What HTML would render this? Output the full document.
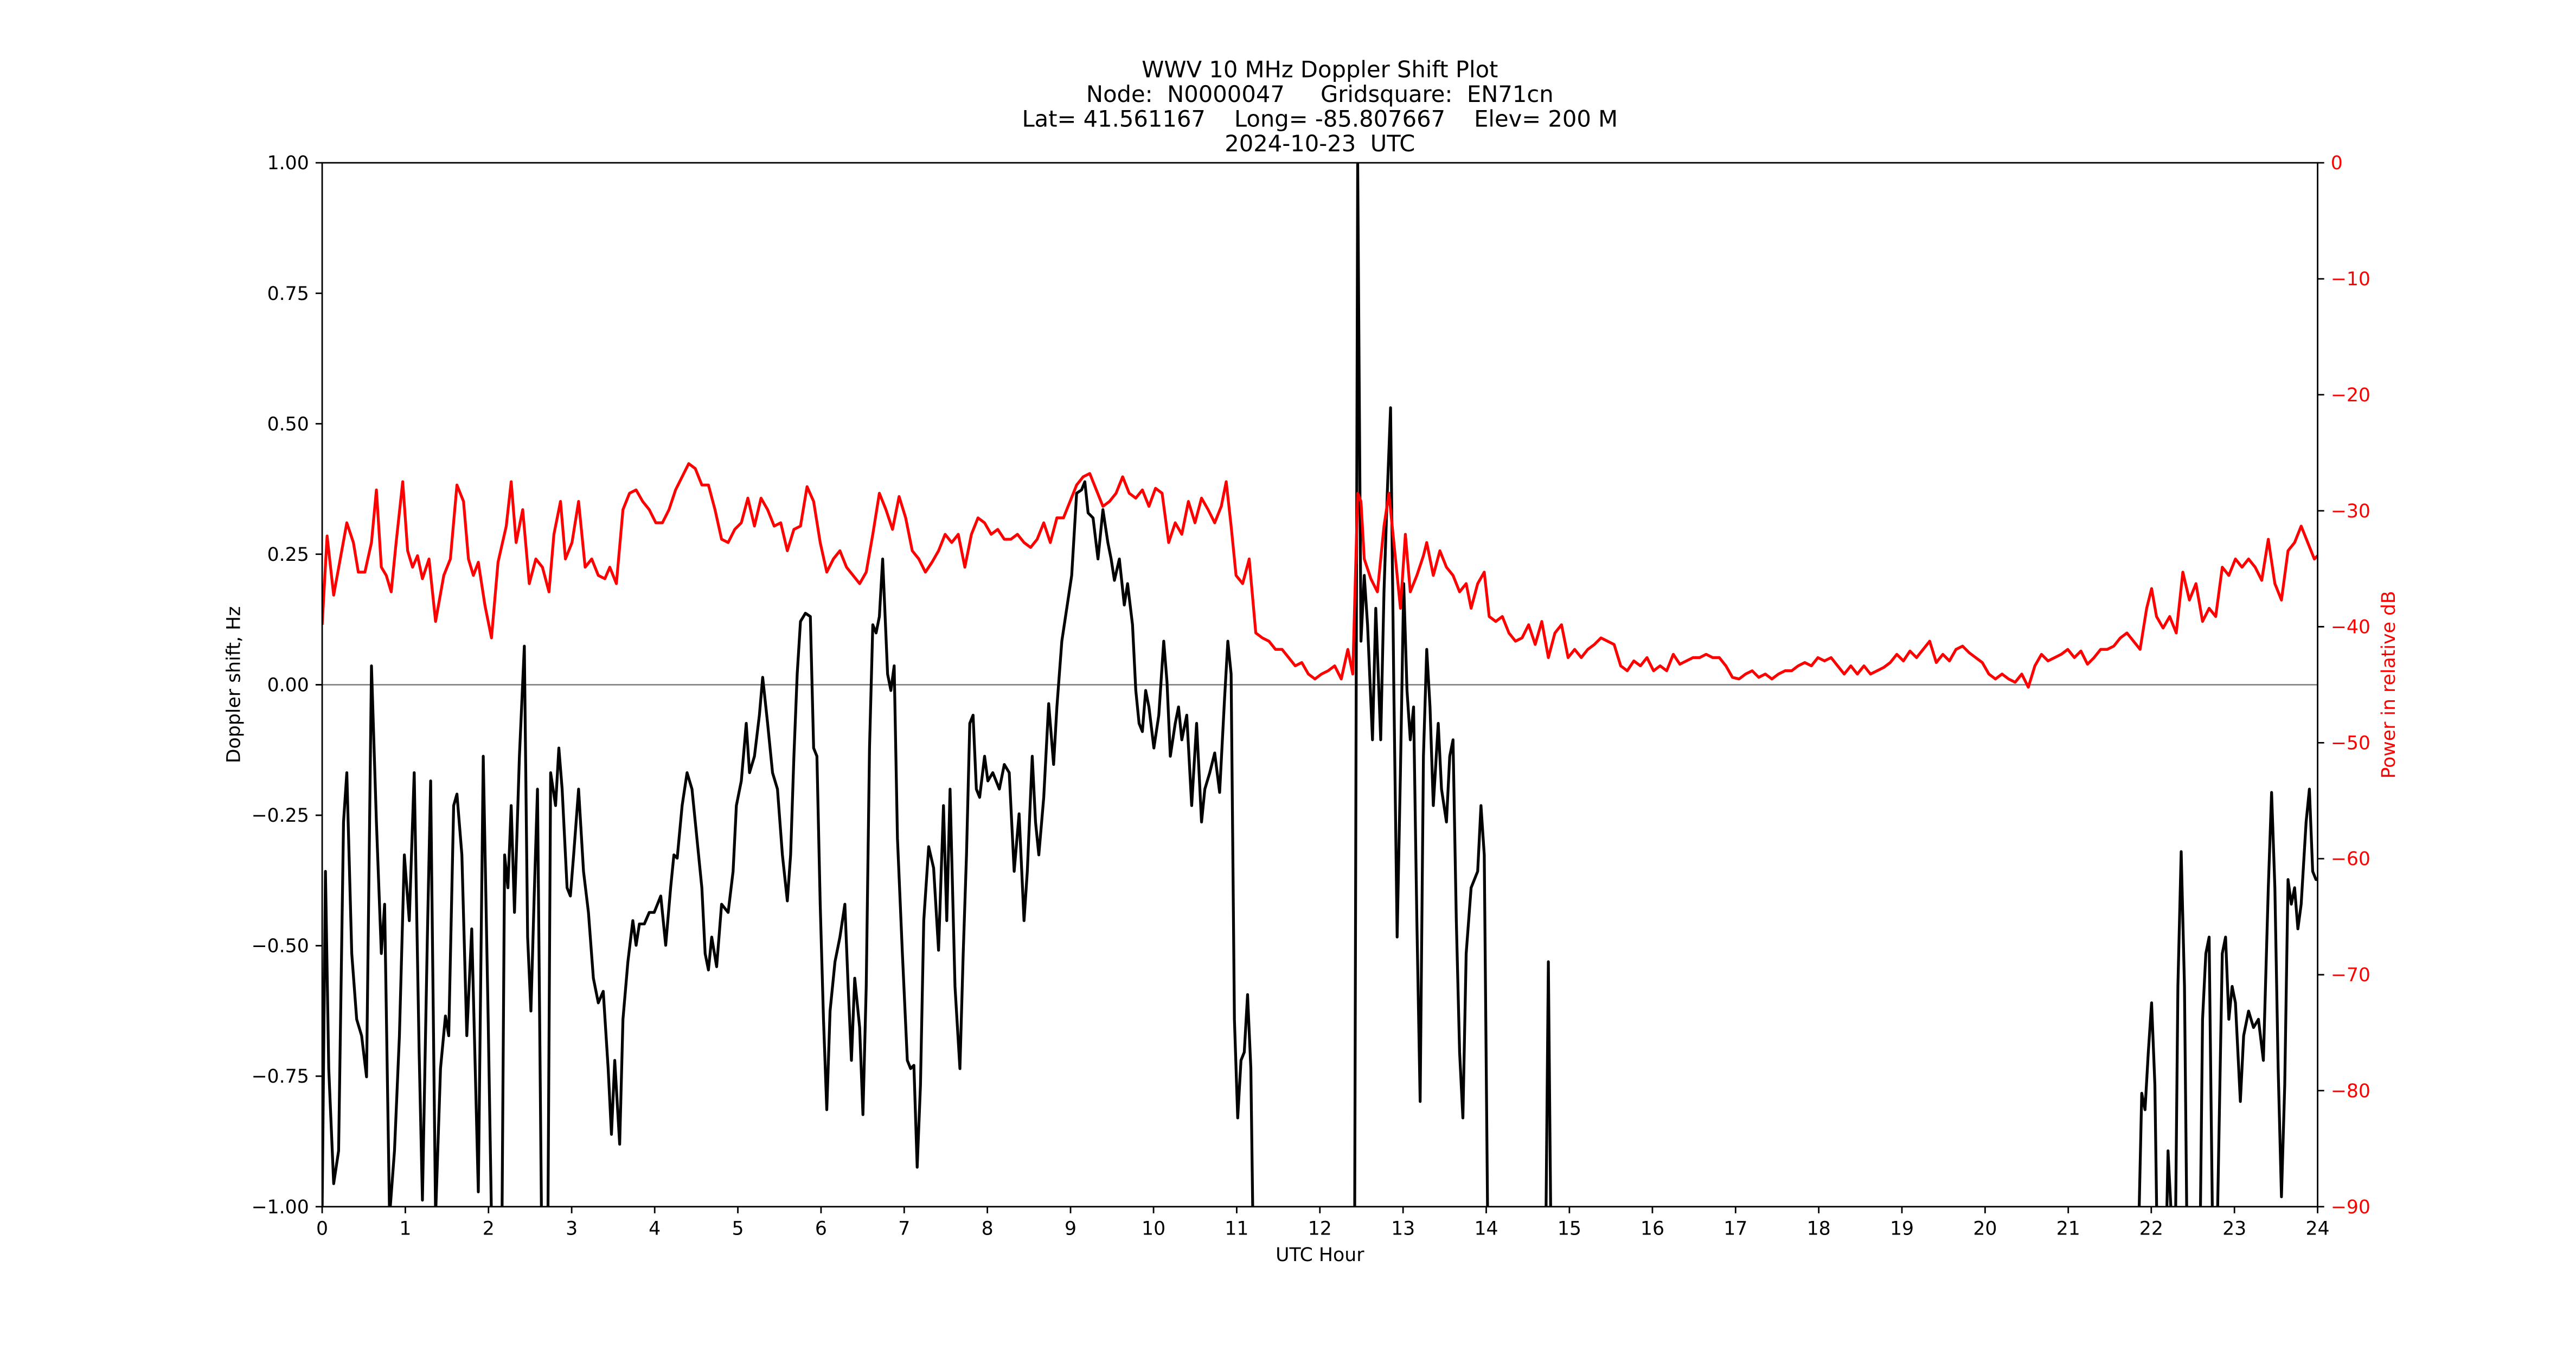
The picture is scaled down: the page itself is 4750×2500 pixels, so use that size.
<!DOCTYPE html>
<html><head><meta charset="utf-8"><style>
html,body{margin:0;padding:0;background:#fff;}
svg{display:block;}
text{font-family:"DejaVu Sans","Liberation Sans",sans-serif;white-space:pre;}
</style></head><body>
<svg width="4750" height="2500" viewBox="0 0 1567.2 824.8" xmlns="http://www.w3.org/2000/svg" xml:space="preserve">
<defs><clipPath id="c"><rect x="196" y="99" width="1214" height="635"/></clipPath></defs>
<rect width="1567.2" height="824.8" fill="#fff"/>
<g font-size="13.75" text-anchor="middle" fill="#000">
<text x="803" y="47">WWV 10 MHz Doppler Shift Plot</text>
<text x="803" y="62">Node:  N0000047     Gridsquare:  EN71cn</text>
<text x="803" y="77">Lat= 41.561167    Long= -85.807667    Elev= 200 M</text>
<text x="803" y="92">2024-10-23  UTC</text>
</g>
<line x1="196" y1="416.5" x2="1410" y2="416.5" stroke="#808080" stroke-width="0.9"/>
<g clip-path="url(#c)" fill="none" stroke-linejoin="round">
<polyline stroke="#000" stroke-width="1.72" points="196,734 198,530 200,650 203,720 206,700 209,500 211,470 214,580 217,620 220,630 223,655 226,405 229,500 232,580 234,550 237,740 240,700 243,630 246,520 249,560 252,470 255,640 257,730 260,570 262,475 265,740 268,650 271,618 273,630 276,490 278,483 281,520 284,630 287,565 291,725 294,460 297,620 300,800 305,800 307,520 309,540 311,490 313,555 316,460 319,393 321,570 323,615 325,545 327,480 330,800 333,800 335,470 338,490 340,455 342,480 345,540 347,545 349,520 352,480 355,530 358,555 361,595 364,610 367,603 370,650 372,690 374,645 377,696 379,620 382,585 385,560 387,575 389,562 392,562 395,555 398,555 402,545 405,575 408,540 410,520 412,522 415,490 418,470 421,480 424,510 427,540 429,580 431,590 433,570 436,588 439,550 443,555 446,530 448,490 451,475 454,440 456,470 459,460 462,435 464,412 467,440 470,470 473,480 476,520 479,548 481,520 483,460 485,410 487,378 490,373 493,375 495,455 497,460 499,550 501,620 503,675 505,615 508,585 511,570 514,550 516,600 518,645 520,595 523,625 525,678 527,600 529,455 531,380 533,385 535,375 537,340 540,410 542,420 544,405 546,510 549,580 552,645 554,650 556,648 558,710 560,660 562,560 565,515 568,528 571,578 574,490 576,560 578,480 581,600 584,650 586,580 588,520 590,440 592,435 594,480 596,485 599,460 601,475 604,470 608,480 611,465 614,470 617,530 620,495 623,560 625,530 628,460 630,500 632,520 635,485 638,428 641,465 643,430 646,390 649,370 652,350 655,300 658,298 660,293 662,312 665,315 668,340 671,310 674,330 676,340 678,353 681,340 684,368 686,355 689,380 691,420 693,440 695,445 697,420 699,430 702,455 705,435 708,390 710,415 712,460 715,440 717,430 719,450 722,435 725,490 728,440 731,500 733,480 736,470 739,458 742,482 745,425 747,390 749,410 751,620 753,680 755,645 757,640 759,605 761,650 763,800 824,800 826,99 828,390 830,350 832,380 835,450 837,370 840,450 842,360 844,300 846,248 848,420 850,570 852,470 854,355 856,420 858,450 860,430 862,560 864,670 866,460 868,395 870,430 872,490 875,440 877,480 880,500 882,460 884,450 886,560 888,640 890,680 892,580 895,540 897,535 899,530 901,490 903,520 905,735 907,800 940,800 942,585 944,800 1300,800 1303,665 1305,675 1307,640 1309,610 1311,660 1313,800 1317,800 1319,700 1321,740 1323,800 1325,600 1327,518 1329,600 1331,800 1338,800 1340,620 1342,580 1344,570 1346,740 1348,800 1352,580 1354,570 1356,620 1358,600 1360,610 1363,670 1365,630 1368,615 1371,625 1374,620 1377,645 1380,540 1382,482 1384,540 1386,650 1388,728 1390,660 1392,535 1394,550 1396,540 1398,565 1400,550 1403,500 1405,480 1407,530 1409,535 1410,535"/>
<polyline stroke="#ff0000" stroke-width="1.72" points="196,380 199,326 203,362 207,340 211,318 215,330 218,348 222,348 226,330 229,298 232,345 235,350 238,360 241,330 245,293 248,335 251,345 254,338 257,352 261,340 265,378 270,350 274,340 278,295 282,305 285,340 288,350 291,342 295,368 299,388 303,342 308,320 311,293 314,330 318,310 322,355 326,340 330,345 334,360 337,325 341,305 344,340 348,330 352,305 356,345 360,340 364,350 368,352 371,345 375,355 379,310 383,300 387,298 391,305 395,310 399,318 403,318 407,310 411,298 415,290 419,282 423,285 427,295 431,295 435,310 439,328 443,330 447,322 451,318 455,303 459,320 463,303 467,310 471,320 475,318 479,335 483,322 487,320 491,296 495,305 499,330 503,348 507,340 511,335 515,345 519,350 523,355 527,348 531,325 535,300 539,310 543,322 547,302 551,315 555,335 559,340 563,348 567,342 571,335 575,325 579,330 583,325 587,345 591,325 595,315 599,318 603,325 607,322 611,328 615,328 619,325 623,330 627,333 631,328 635,318 639,330 643,315 647,315 651,305 655,295 659,290 663,288 667,298 671,308 675,305 679,300 683,290 687,300 691,303 695,298 699,308 703,297 707,300 711,330 715,318 719,325 723,305 727,318 731,303 735,310 739,318 743,308 746,293 749,320 752,350 756,355 760,340 764,385 768,388 772,390 776,395 780,395 784,400 788,405 792,403 796,410 800,413 804,410 808,408 812,405 816,413 820,395 823,410 826,300 828,305 830,340 834,352 838,360 842,320 845,300 848,330 852,370 855,325 858,360 862,350 866,338 868,330 872,350 876,335 880,345 884,350 888,360 892,355 895,370 899,355 903,348 906,375 910,378 914,375 918,385 922,390 926,388 930,380 934,392 938,378 942,400 946,385 950,380 954,400 958,395 962,400 966,395 970,392 974,388 978,390 982,392 986,405 990,408 994,402 998,405 1002,400 1006,408 1010,405 1014,408 1018,398 1022,404 1026,402 1030,400 1034,400 1038,398 1042,400 1046,400 1050,405 1054,412 1058,413 1062,410 1066,408 1070,412 1074,410 1078,413 1082,410 1086,408 1090,408 1094,405 1098,403 1102,405 1106,400 1110,402 1114,400 1118,405 1122,410 1126,405 1130,410 1134,405 1138,410 1142,408 1146,406 1150,403 1154,398 1158,402 1162,396 1166,400 1170,395 1174,390 1178,403 1182,398 1186,402 1190,395 1194,393 1198,397 1202,400 1206,403 1210,410 1214,413 1218,410 1222,413 1226,415 1230,410 1234,418 1238,405 1242,398 1246,402 1250,400 1254,398 1258,395 1262,400 1266,396 1270,404 1274,400 1278,395 1282,395 1286,393 1290,388 1294,385 1298,390 1302,395 1306,370 1309,358 1312,375 1316,382 1320,375 1324,385 1328,348 1332,365 1336,355 1340,378 1344,370 1348,375 1352,345 1356,350 1360,340 1364,345 1368,340 1372,345 1376,353 1380,328 1384,355 1388,365 1392,335 1396,330 1400,320 1404,330 1408,340 1410,338"/>
</g>
<rect x="196" y="99" width="1214" height="635" fill="none" stroke="#000" stroke-width="0.92"/>
<g stroke="#000" stroke-width="0.92">
<path d="M196,734v4M246.6,734v4M297.2,734v4M347.8,734v4M398.3,734v4M448.9,734v4M499.5,734v4M550.1,734v4M600.7,734v4M651.3,734v4M701.8,734v4M752.4,734v4M803,734v4M853.6,734v4M904.2,734v4M954.8,734v4M1005.3,734v4M1055.9,734v4M1106.5,734v4M1157.1,734v4M1207.7,734v4M1258.3,734v4M1308.8,734v4M1359.4,734v4M1410,734v4"/>
<path d="M196,99h-4M196,178.4h-4M196,257.75h-4M196,337.1h-4M196,416.5h-4M196,495.9h-4M196,575.25h-4M196,654.6h-4M196,734h-4"/>
<path d="M1410,99h4M1410,169.6h4M1410,240.1h4M1410,310.7h4M1410,381.2h4M1410,451.8h4M1410,522.3h4M1410,592.9h4M1410,663.4h4M1410,734h4"/>
</g>
<g font-size="11.45" text-anchor="middle" fill="#000">
<text x="196" y="751">0</text><text x="246.6" y="751">1</text><text x="297.2" y="751">2</text><text x="347.8" y="751">3</text><text x="398.3" y="751">4</text><text x="448.9" y="751">5</text><text x="499.5" y="751">6</text><text x="550.1" y="751">7</text><text x="600.7" y="751">8</text><text x="651.3" y="751">9</text><text x="701.8" y="751">10</text><text x="752.4" y="751">11</text><text x="803" y="751">12</text><text x="853.6" y="751">13</text><text x="904.2" y="751">14</text><text x="954.8" y="751">15</text><text x="1005.3" y="751">16</text><text x="1055.9" y="751">17</text><text x="1106.5" y="751">18</text><text x="1157.1" y="751">19</text><text x="1207.7" y="751">20</text><text x="1258.3" y="751">21</text><text x="1308.8" y="751">22</text><text x="1359.4" y="751">23</text><text x="1410" y="751">24</text>
<text x="803" y="767">UTC Hour</text>
</g>
<g font-size="11.45" text-anchor="end" fill="#000">
<text x="188" y="103">1.00</text><text x="188" y="182.4">0.75</text><text x="188" y="261.75">0.50</text><text x="188" y="341.1">0.25</text><text x="188" y="420.5">0.00</text><text x="188" y="499.9">−0.25</text><text x="188" y="579.25">−0.50</text><text x="188" y="658.6">−0.75</text><text x="188" y="738">−1.00</text>
</g>
<text font-size="11.45" text-anchor="middle" transform="translate(146,416.5) rotate(-90)">Doppler shift, Hz</text>
<g font-size="11.45" fill="#ff0000">
<text x="1418" y="103">0</text><text x="1418" y="173.6">−10</text><text x="1418" y="244.1">−20</text><text x="1418" y="314.7">−30</text><text x="1418" y="385.2">−40</text><text x="1418" y="455.8">−50</text><text x="1418" y="526.3">−60</text><text x="1418" y="596.9">−70</text><text x="1418" y="667.4">−80</text><text x="1418" y="738">−90</text>
<text text-anchor="middle" transform="translate(1457,416.5) rotate(-90)">Power in relative dB</text>
</g>
</svg>
</body></html>
